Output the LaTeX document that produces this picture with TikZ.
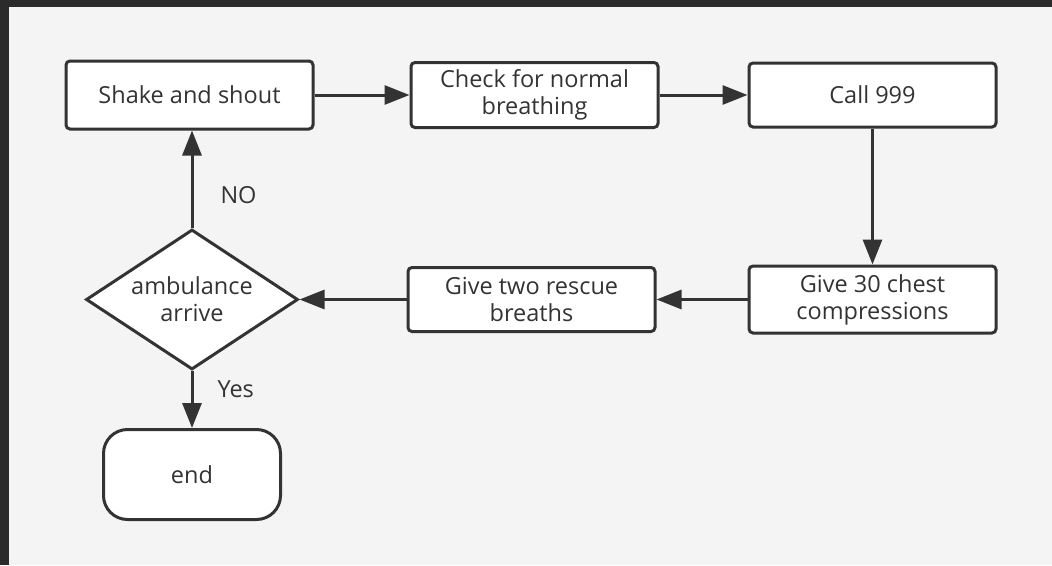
\documentclass[tikz,border=0pt]{standalone}
\usepackage{fontspec}
\setmainfont{Open Sans}
\usetikzlibrary{positioning,shapes.geometric,arrows.meta}
\definecolor{ink}{HTML}{333333}
\definecolor{paper}{HTML}{F4F4F4}
\definecolor{frame}{HTML}{2B2B2B}
\begin{document}
\begin{tikzpicture}[x=1pt, y=-1pt,
				step box/.style={rectangle, rounded corners=4pt, draw=ink, line width=3pt, fill=white, text=ink, minimum width=247pt, minimum height=65pt, align=center, font=\fontsize{23.5}{27}\selectfont},
				decide/.style={diamond, aspect=1.5, inner sep=0pt, draw=ink, line width=3pt, fill=white, text=ink, minimum width=212pt, minimum height=140pt, align=center, font=\fontsize{23.5}{27}\selectfont},
				stop/.style={rectangle, rounded corners=24pt, draw=ink, line width=3pt, fill=white, text=ink, minimum width=177pt, minimum height=90pt, font=\fontsize{23.5}{27}\selectfont},
				tag/.style={inner sep=0pt, text=ink, font=\fontsize{23.5}{27}\selectfont}
			]
			\fill[frame] (0,0) rectangle (1052,565);
			\fill[paper] (9,7) rectangle (1052,565);
			\useasboundingbox (0,0) rectangle (1052,565);
			\node[step box, minimum height=68pt] (shake) at (189.5,95) {Shake and shout};
			\node[step box] (check) [right=95pt of shake] {Check for normal\\breathing};
			\node[step box, minimum height=64pt] (call) [right=88pt of check] {Call 999};
			\node[step box, minimum height=67pt] (chest) [below=136pt of call] {Give 30 chest\\compressions};
			\node[step box, minimum height=64pt] (breaths) [left=91pt of chest] {Give two rescue\\breaths};
			\node[decide] (arrive) [left=107pt of breaths] {ambulance\\arrive};
			\node[stop] (end) [below=57pt of arrive] {end};
			\begin{scope}[draw=ink, line width=3pt, -{Triangle[length=25pt, width=19pt]}]
			\draw (shake.east) -- (check.west);
			\draw (check.east) -- (call.west);
			\draw (call.south) -- (chest.north);
			\draw (chest.west) -- (breaths.east);
			\draw (breaths.west) -- (arrive.east);
			\draw (arrive.north) -- node[tag, pos=0.34, right=27pt] (no) {NO} (shake.south -| arrive.north);
			\draw (arrive.south) -- node[tag, pos=0.32, right=24pt] (yes) {Yes} (end.north);
			\end{scope}
			\end{tikzpicture}
\end{document}
